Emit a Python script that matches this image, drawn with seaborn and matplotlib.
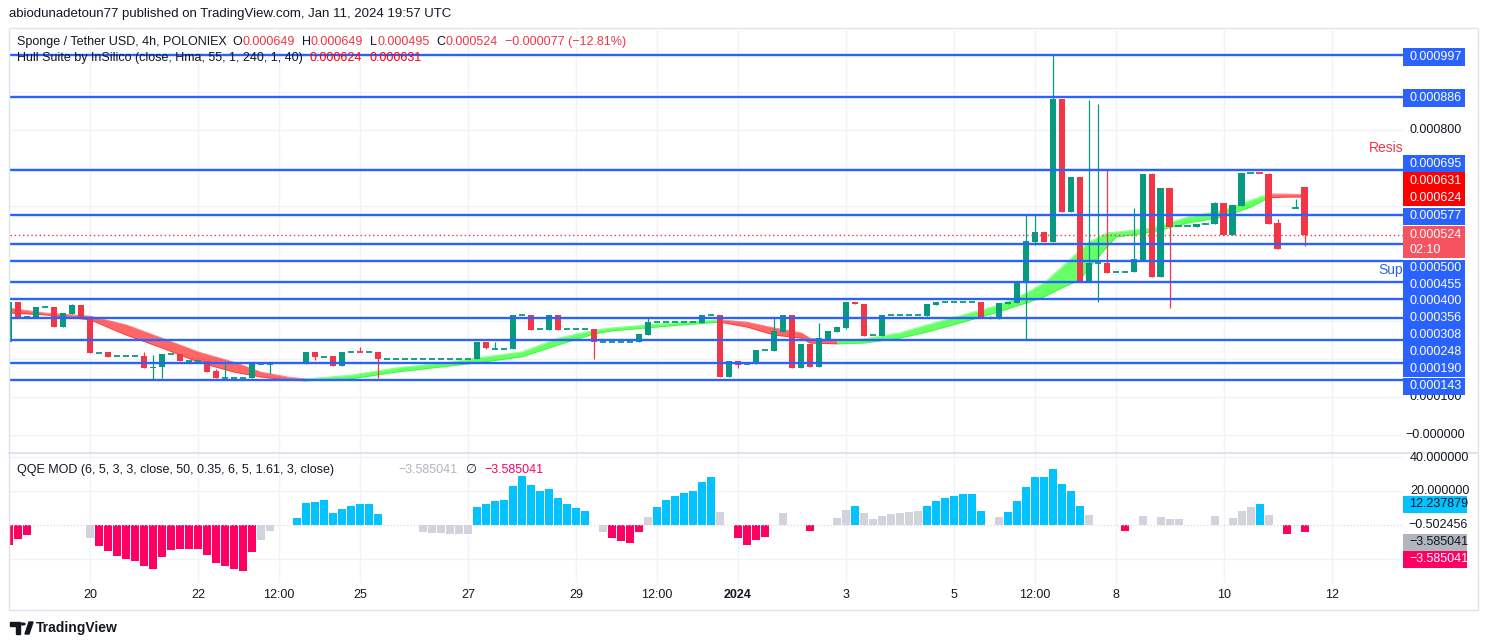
import numpy as np
import pandas as pd
import matplotlib
matplotlib.use("Agg")
import matplotlib.pyplot as plt
import seaborn as sns
from matplotlib.patches import Rectangle, Polygon, Circle

sns.set_theme(style="white")
plt.rcParams['font.family'] = ['Liberation Sans', 'DejaVu Sans']

# ---------------- DATA (prices in millionths of USDT) ----------------
t0 = pd.Timestamp("2023-12-20 00:00")          # bar index 0, 4h bars
bar = [-9, -8, -7, -6, -5, -4, -3, -2, -1, 0, 1, 2, 3, 4, 5, 6, 7, 8, 9, 10,
       11, 12, 13, 14, 15, 16, 17, 18, 19, 20, 24, 25, 26, 27, 28, 29, 30, 31, 32,
       33, 34, 35, 36, 37, 38, 39, 40, 41, 42, 43, 44, 45, 46, 47, 48, 49, 50,
       51, 52, 53, 54, 55, 56, 57, 58, 59, 60, 61, 62, 63, 64, 65, 66, 67, 68,
       69, 70, 71, 72, 73, 74, 75, 76, 77, 78, 79, 80, 81, 82, 83, 84, 85, 86,
       87, 88, 89, 90, 91, 92, 93, 94, 95, 96, 97, 98, 99, 100, 101, 102, 103,
       104, 105, 106, 107, 108, 109, 110, 111, 112, 113, 114, 115, 116, 117,
       118, 119, 120, 121, 122, 123, 124, 125, 126, 127, 128, 129, 130, 131,
       132, 133, 134, 135]
open_u = [244, 349, 310, 310, 336, 336, 283, 317, 341, 307, 215, 218, 207, 207, 207, 207, 176, 178, 212, 212,
          194, 194, 194, 168, 149, 149, 149, 149, 186, 186, 186, 218, 205, 207, 181, 218, 219, 218, 218,
          199, 199, 199, 199, 199, 199, 199, 199, 199, 199, 199, 244, 226, 226, 226, 315, 315, 277,
          275, 315, 277, 277, 277, 277, 245, 245, 245, 245, 245, 262, 295, 295, 295, 295, 295, 293,
          315, 315, 153, 194, 186, 186, 223, 221, 271, 315, 176, 239, 178, 253, 271, 281, 350, 343,
          262, 260, 315, 315, 315, 315, 312, 341, 348, 348, 348, 348, 348, 310, 304, 343, 347,
          398, 507, 533, 506, 881, 585, 677, 400, 452, 452, 428, 428, 428, 456,
          685, 415, 648, 548, 548, 546, 553, 552, 608, 524, 601, 687, 688, 685,
          556, 500, 596, 649]
high_u = [349, 349, 312, 336, 336, 336, 320, 344, 341, 307, 215, 218, 207, 207, 207, 218, 210, 212, 212, 212,
          194, 194, 194, 173, 186, 149, 149, 186, 186, 186, 218, 218, 205, 207, 218, 218, 231, 218, 218,
          199, 199, 199, 199, 199, 199, 199, 199, 199, 199, 244, 245, 245, 226, 315, 315, 315, 277,
          315, 315, 277, 277, 277, 277, 245, 245, 245, 245, 264, 308, 295, 295, 295, 295, 295, 315,
          315, 315, 194, 194, 186, 223, 223, 308, 315, 315, 239, 239, 294, 273, 284, 350, 350, 343,
          262, 315, 315, 315, 315, 315, 343, 348, 348, 348, 348, 348, 348, 312, 346, 348, 399,
          577, 577, 533, 997, 881, 677, 677, 879, 868, 695, 428, 428, 595, 685,
          688, 648, 648, 548, 548, 553, 553, 612, 608, 603, 687, 687, 688, 687,
          567, 500, 619, 649]
low_u = [244, 310, 310, 310, 336, 283, 283, 317, 307, 215, 215, 205, 207, 207, 207, 176, 144, 150, 212, 194,
         194, 194, 165, 149, 149, 149, 149, 149, 186, 160, 186, 197, 205, 181, 181, 218, 218, 218, 149,
         199, 199, 199, 199, 199, 199, 199, 199, 199, 199, 199, 226, 226, 226, 226, 315, 275, 277,
         275, 275, 277, 277, 277, 199, 245, 245, 245, 245, 245, 262, 295, 295, 295, 295, 295, 293,
         315, 153, 153, 176, 186, 186, 223, 221, 271, 176, 176, 178, 178, 253, 271, 277, 343, 260,
         262, 260, 315, 315, 315, 315, 312, 341, 348, 348, 348, 348, 310, 304, 304, 343, 347,
         248, 498, 506, 506, 585, 585, 400, 400, 350, 426, 428, 428, 428, 456,
         415, 415, 334, 548, 548, 546, 553, 552, 524, 524, 601, 687, 687, 553,
         488, 500, 596, 495]
close_u = [349, 310, 312, 336, 336, 283, 320, 341, 307, 215, 215, 205, 207, 207, 207, 176, 178, 212, 212, 194,
           194, 194, 165, 149, 150, 149, 149, 186, 186, 186, 218, 205, 205, 181, 218, 218, 218, 218, 199,
           199, 199, 199, 199, 199, 199, 199, 199, 199, 199, 244, 228, 227, 226, 315, 315, 275, 277,
           315, 275, 277, 277, 277, 245, 245, 245, 245, 245, 264, 295, 295, 295, 295, 295, 295, 315,
           315, 153, 194, 184, 186, 223, 223, 273, 315, 176, 239, 178, 255, 273, 284, 350, 343, 260,
           262, 315, 315, 315, 315, 315, 343, 348, 348, 348, 348, 348, 310, 304, 346, 348, 399,
           509, 533, 506, 881, 585, 677, 400, 452, 452, 426, 428, 428, 461, 685,
           415, 648, 546, 548, 548, 553, 553, 608, 524, 603, 687, 687, 687, 553,
           488, 500, 597, 524]

# Hull Suite band (two edges) read at selected bars, and direction of the following segment
hull_bar = [-9, -5, 0, 4, 8, 12, 16, 19, 22, 24, 29, 34, 40, 43, 48, 52, 56, 58, 62, 66, 70,
            73, 76, 79, 80, 83, 86, 90, 93, 97, 101, 104, 106, 108, 110, 111, 113, 114, 118,
            122, 126, 129, 131, 133, 135]
hull_hi = [333, 320, 312, 289, 254, 218, 191, 165, 152, 147, 157, 176, 191, 202, 218, 254, 275, 281, 289, 296, 302,
           296, 281, 268, 254, 247, 252, 268, 289, 315, 341, 372, 399, 441, 485, 506, 530, 532, 543,
           572, 590, 616, 632, 632, 630]
hull_lo = [320, 315, 302, 262, 228, 191, 165, 152, 144, 142, 147, 165, 181, 189, 205, 236, 265, 273, 281, 289, 296,
           283, 262, 254, 241, 239, 241, 254, 270, 296, 323, 346, 362, 386, 407, 438, 493, 519, 532,
           556, 572, 598, 622, 624, 624]
hull_dir = ['dn'] * 9 + ['up'] * 11 + ['dn'] * 5 + ['up'] * 17 + ['dn'] * 3

# Horizontal support / resistance levels
levels = [0.000997, 0.000886, 0.000695, 0.000577, 0.000500, 0.000455,
          0.000400, 0.000356, 0.000308, 0.000248, 0.000190, 0.000143]
last_price = 0.000524
hull_last = [0.000631, 0.000624]

# QQE MOD histogram
qqe_bar = [-9, -8, -7, 0, 1, 2, 3, 4, 5, 6, 7, 8, 9, 10, 11, 12, 13, 14, 15, 16, 17, 18, 19, 20,
           23, 24, 25, 26, 27, 28, 29, 30, 31, 32, 37, 38, 39, 40, 41, 42,
           43, 44, 45, 46, 47, 48, 49, 50, 51, 52, 53, 54, 55, 57, 58, 59, 60, 61, 62,
           63, 64, 65, 66, 67, 68, 69, 70, 72, 73, 74, 75, 77, 80,
           83, 84, 85, 86, 87, 88, 89, 90, 91, 92, 93, 94, 95, 96, 97, 98, 99,
           101, 102, 103, 104, 105, 106, 107, 108, 109, 110, 111,
           115, 117, 119, 120, 121, 125, 127, 128, 129, 130, 131, 133, 135]
qqe_val = [-11.8, -8.2, -5.9, -7.4, -12.2, -15.3, -18.0, -20.0, -21.2, -23.9, -25.9, -18.8, -14.7, -14.1,
           -14.1, -14.1, -17.6, -22.5, -23.9, -25.9, -27.0, -16.1, -8.8, -3.5,
           4.3, 12.7, 13.3, 14.7, 6.9, 9.4, 11.0, 12.3, 12.3, 6.5, -4.3, -4.9, -4.9, -5.3, -5.3, -5.3,
           10.8, 12.3, 14.3, 14.9, 23.1, 29.0, 23.5, 20.2, 21.2, 16.1, 12.3, 9.8, 8.2, -3.9, -7.4, -9.4,
           -10.8, -4.3, 4.7,
           10.4, 14.7, 17.2, 18.8, 20.2, 25.5, 28.2, 7.4, -7.4, -11.8, -8.8, -6.9, 6.9, -3.5,
           4.3, 8.8, 11.2, 6.9, 3.5, 5.3, 6.5, 7.1, 7.8, 8.2, 11.2, 14.1, 15.9, 17.2, 18.0, 18.2, 8.2,
           4.7, 7.6, 14.1, 22.3, 28.2, 28.2, 32.9, 24.1, 20.2, 11.2, 5.9,
           -3.5, 5.3, 4.7, 3.5, 3.5, 5.3, 4.3, 8.2, 10.4, 12.3, 5.9, -5.5, -3.9]
qqe_state = ['r', 'r', 'r', 'g'] + ['r'] * 18 + ['g', 'g'] + ['b'] * 10 + ['g'] * 6 + \
            ['b'] * 13 + ['g', 'r', 'r', 'r', 'r', 'g'] + ['b'] * 7 + ['g', 'r', 'r', 'r', 'r', 'g', 'r'] + \
            ['g', 'g', 'b', 'g', 'g', 'g', 'g', 'g', 'g', 'g'] + ['b'] * 7 + \
            ['g'] + ['b'] * 9 + ['g'] + \
            ['r', 'g', 'g', 'g', 'g', 'g', 'g', 'g', 'g', 'b', 'g', 'r', 'r']
qqe_last = [12.237879, -0.502456, -3.585041, -3.585041]

tick_dates = ["2023-12-20", "2023-12-22", "2023-12-23 12:00", "2023-12-25", "2023-12-27",
              "2023-12-29", "2023-12-30 12:00", "2024-01-01", "2024-01-03", "2024-01-05",
              "2024-01-06 12:00", "2024-01-08", "2024-01-10", "2024-01-12"]
tick_labels = ["20", "22", "12:00", "25", "27", "29", "12:00", "2024", "3", "5",
               "12:00", "8", "10", "12"]

# ---------------- STYLE ----------------
UP, DN = "#089981", "#f23645"
BLUE = "#2962ff"
TXT = "#131722"
GRID = "#f0f3fa"
QCOL = {'b': "#00c3ff", 'r': "#ff0062", 'g': "#d1d4dc"}

W, H = 1489, 644
fig = plt.figure(figsize=(W / 100, H / 100), dpi=100)
fig.patch.set_facecolor("white")


def fx(px):
    return px / W


def fy(py):
    return 1 - py / H


ax = fig.add_axes([fx(10), fy(452), (1403 - 10) / W, (452 - 30) / H])
ax2 = fig.add_axes([fx(10), fy(583), (1403 - 10) / W, (583 - 453) / H])
for a in (ax, ax2):
    a.set_facecolor("white")
    for s in a.spines.values():
        s.set_visible(False)
    a.set_xlim(-8.89, 145.9)
    a.set_yticks([])
    a.set_xticks([])

ax.set_ylim(-44.6e-6, 1062e-6)
ax2.set_ylim(-34.1, 42.4)

tick_k = [(pd.Timestamp(d) - t0) / pd.Timedelta(hours=4) for d in tick_dates]
for k in tick_k:
    ax.axvline(k, color=GRID, lw=1, zorder=0)
    ax2.axvline(k, color=GRID, lw=1, zorder=0)
for g in np.arange(0, 0.00095, 0.0001):
    ax.axhline(g, color=GRID, lw=1, zorder=0)
for g in (40, 20, -20):
    ax2.axhline(g, color=GRID, lw=1, zorder=0)

# Hull band
hk = np.array(hull_bar, float)
hh = np.array(hull_hi) * 1e-6
hl = np.array(hull_lo) * 1e-6
i = 0
n = len(hk)
while i < n - 1:
    j = i
    while j < n - 1 and hull_dir[j] == hull_dir[i]:
        j += 1
    col = "#00ff00" if hull_dir[i] == 'up' else "#ff0000"
    ax.fill_between(hk[i:j + 1], hl[i:j + 1], hh[i:j + 1], color=col, alpha=0.6, lw=0, zorder=1)
    sns.lineplot(x=hk[i:j + 1], y=hh[i:j + 1], ax=ax, color=col, alpha=0.5, lw=0.6, zorder=1)
    sns.lineplot(x=hk[i:j + 1], y=hl[i:j + 1], ax=ax, color=col, alpha=0.5, lw=0.6, zorder=1)
    i = j

# Candles
o = np.array(open_u) * 1e-6
hi = np.array(high_u) * 1e-6
lo = np.array(low_u) * 1e-6
c = np.array(close_u) * 1e-6
bk = np.array(bar, float)
cols = [UP if cc >= oo else DN for oo, cc in zip(open_u, close_u)]
ax.vlines(bk, lo, hi, colors=cols, lw=0.9, zorder=2)
bw = 0.76
for k, oo, cc, col in zip(bk, o, c, cols):
    if abs(cc - oo) < 1.5e-6:
        ax.hlines((oo + cc) / 2, k - bw / 2, k + bw / 2, colors=col, lw=1.3, zorder=3)
    else:
        ax.bar(k, abs(cc - oo), bottom=min(oo, cc), width=bw, color=col, lw=0, zorder=3)

# levels and last price
for lv in levels:
    ax.axhline(lv, color=BLUE, lw=1.7, zorder=4)
ax.axhline(last_price, color=DN, lw=1, ls=(0, (1, 2)), zorder=4)

# drawing texts (only the visible parts before the price scale)
ax.text(145.9, 753e-6, "Resis", color=DN, fontsize=10, va="center", ha="right")
ax.text(145.9, 433e-6, "Sup", color=BLUE, fontsize=10, va="center", ha="right")

# QQE histogram
ax2.bar(qqe_bar, qqe_val, width=0.86, color=[QCOL[s] for s in qqe_state], lw=0, zorder=2)
ax2.axhline(0, color="#d1d4dc", lw=0.8, ls=(0, (1, 2)), zorder=3)

# x tick labels
for k, lab in zip(tick_k, tick_labels):
    ax2.text(k, -0.09, lab, transform=ax2.get_xaxis_transform(), ha="center", va="center",
             fontsize=9, color=TXT, clip_on=False, weight="bold" if lab == "2024" else "normal")

# chart frame
fig.add_artist(Rectangle((fx(9), fy(610)), (1478 - 9) / W, (610 - 28) / H, transform=fig.transFigure,
                         fill=False, ec="#e0e3eb", lw=1))
fig.add_artist(plt.Line2D([fx(9), fx(1478)], [fy(452.5), fy(452.5)], transform=fig.transFigure,
                          color="#e0e3eb", lw=1.5))


def label_box(py, text, face, tcol, x0=1403, w=62, h=17, text2=None):
    fig.add_artist(Rectangle((fx(x0), fy(py + h / 2)), w / W, h / H, transform=fig.transFigure,
                             color=face, lw=0, zorder=5))
    if text2 is None:
        fig.text(fx(x0 + 6), fy(py), text, color=tcol, fontsize=9, va="center", ha="left", zorder=6)
    else:
        fig.text(fx(x0 + 6), fy(py - 7), text, color=tcol, fontsize=9, va="center", ha="left", zorder=6)
        fig.text(fx(x0 + 6), fy(py + 8), text2, color=tcol, fontsize=9, va="center", ha="left", zorder=6)


# plain price ticks
fig.text(fx(1410), fy(130), "0.000800", color=TXT, fontsize=9, va="center")
fig.text(fx(1410), fy(397), "0.000100", color=TXT, fontsize=9, va="center")
fig.text(fx(1405), fy(435), "\u22120.000000", color=TXT, fontsize=9, va="center")

lvl_y = [57, 98, 164, 216, 268, 285, 301, 318, 335, 352, 369, 386]
for lv, py in zip(levels, lvl_y):
    label_box(py, f"{lv:.6f}", BLUE, "white")
fig.add_artist(Rectangle((fx(1403), fy(206)), 62 / W, 34 / H, transform=fig.transFigure,
                         color="#ff0000", lw=0, zorder=5))
fig.text(fx(1409), fy(181), f"{hull_last[0]:.6f}", color="white", fontsize=9, va="center", zorder=6)
fig.text(fx(1409), fy(198), f"{hull_last[1]:.6f}", color="white", fontsize=9, va="center", zorder=6)
label_box(242, f"{last_price:.6f}", "#f7525f", "white", h=32, text2="02:10")

# QQE scale
fig.text(fx(1410), fy(458), "40.000000", color=TXT, fontsize=9, va="center")
fig.text(fx(1410), fy(491), "20.000000", color=TXT, fontsize=9, va="center")
label_box(504, f"{qqe_last[0]:.6f}", "#00c3ff", TXT, w=64)
fig.text(fx(1408), fy(525), f"{qqe_last[1]:.6f}".replace("-", "\u2212"), color=TXT, fontsize=9, va="center")
label_box(542, f"{qqe_last[2]:.6f}".replace("-", "\u2212"), "#b2b5be", TXT, w=64)
label_box(559, f"{qqe_last[3]:.6f}".replace("-", "\u2212"), "#ff0062", "white", w=64)

# header texts
renderer = fig.canvas.get_renderer()


def seq_text(px, py, pieces, size=9):
    x = px
    for s, col, gap in pieces:
        t = fig.text(fx(x), fy(py), s, color=col, fontsize=size, va="center", ha="left", zorder=7)
        bb = t.get_window_extent(renderer)
        x = x + bb.width + gap


fig.text(fx(9), fy(14), "abiodunadetoun77 published on TradingView.com, Jan 11, 2024 19:57 UTC",
         color=TXT, fontsize=9.5, va="center")
seq_text(17, 42, [("Sponge / Tether USD, 4h, POLONIEX", TXT, 6),
                  ("O", TXT, 0), (f"{open_u[-1] * 1e-6:.6f}", DN, 7),
                  ("H", TXT, 0), (f"{high_u[-1] * 1e-6:.6f}", DN, 7),
                  ("L", TXT, 0), (f"{low_u[-1] * 1e-6:.6f}", DN, 7),
                  ("C", TXT, 0), (f"{close_u[-1] * 1e-6:.6f}", DN, 7),
                  ("\u22120.000077 (\u221212.81%)", DN, 0)])
seq_text(17, 58, [("Hull Suite by InSilico (close, Hma, 55, 1, 240, 1, 40)", TXT, 7),
                  (f"{hull_last[1]:.6f}", "#ff0000", 7), (f"{hull_last[0]:.6f}", "#ff0000", 0)])
seq_text(17, 470, [("QQE MOD (6, 5, 3, 3, close, 50, 0.35, 6, 5, 1.61, 3, close)", TXT, 64),
                   ("\u22123.585041", "#b2b5be", 8), ("\u2205", TXT, 8),
                   ("\u22123.585041", "#ff0062", 0)])

# footer logo
fig.add_artist(Polygon([[fx(10), fy(622)], [fx(20), fy(622)], [fx(20), fy(634)], [fx(16), fy(634)],
                        [fx(16), fy(626)], [fx(10), fy(626)]], closed=True, transform=fig.transFigure,
                       color=TXT))
fig.add_artist(Circle((fx(23), fy(624)), 2 / W, transform=fig.transFigure, color=TXT))
fig.add_artist(Polygon([[fx(25), fy(634)], [fx(29), fy(622)], [fx(33), fy(622)], [fx(29), fy(634)]],
                       closed=True, transform=fig.transFigure, color=TXT))
fig.text(fx(36), fy(628), "TradingView", color=TXT, fontsize=10, va="center", weight="bold")

fig.savefig("out.png", dpi=100, facecolor="white")
